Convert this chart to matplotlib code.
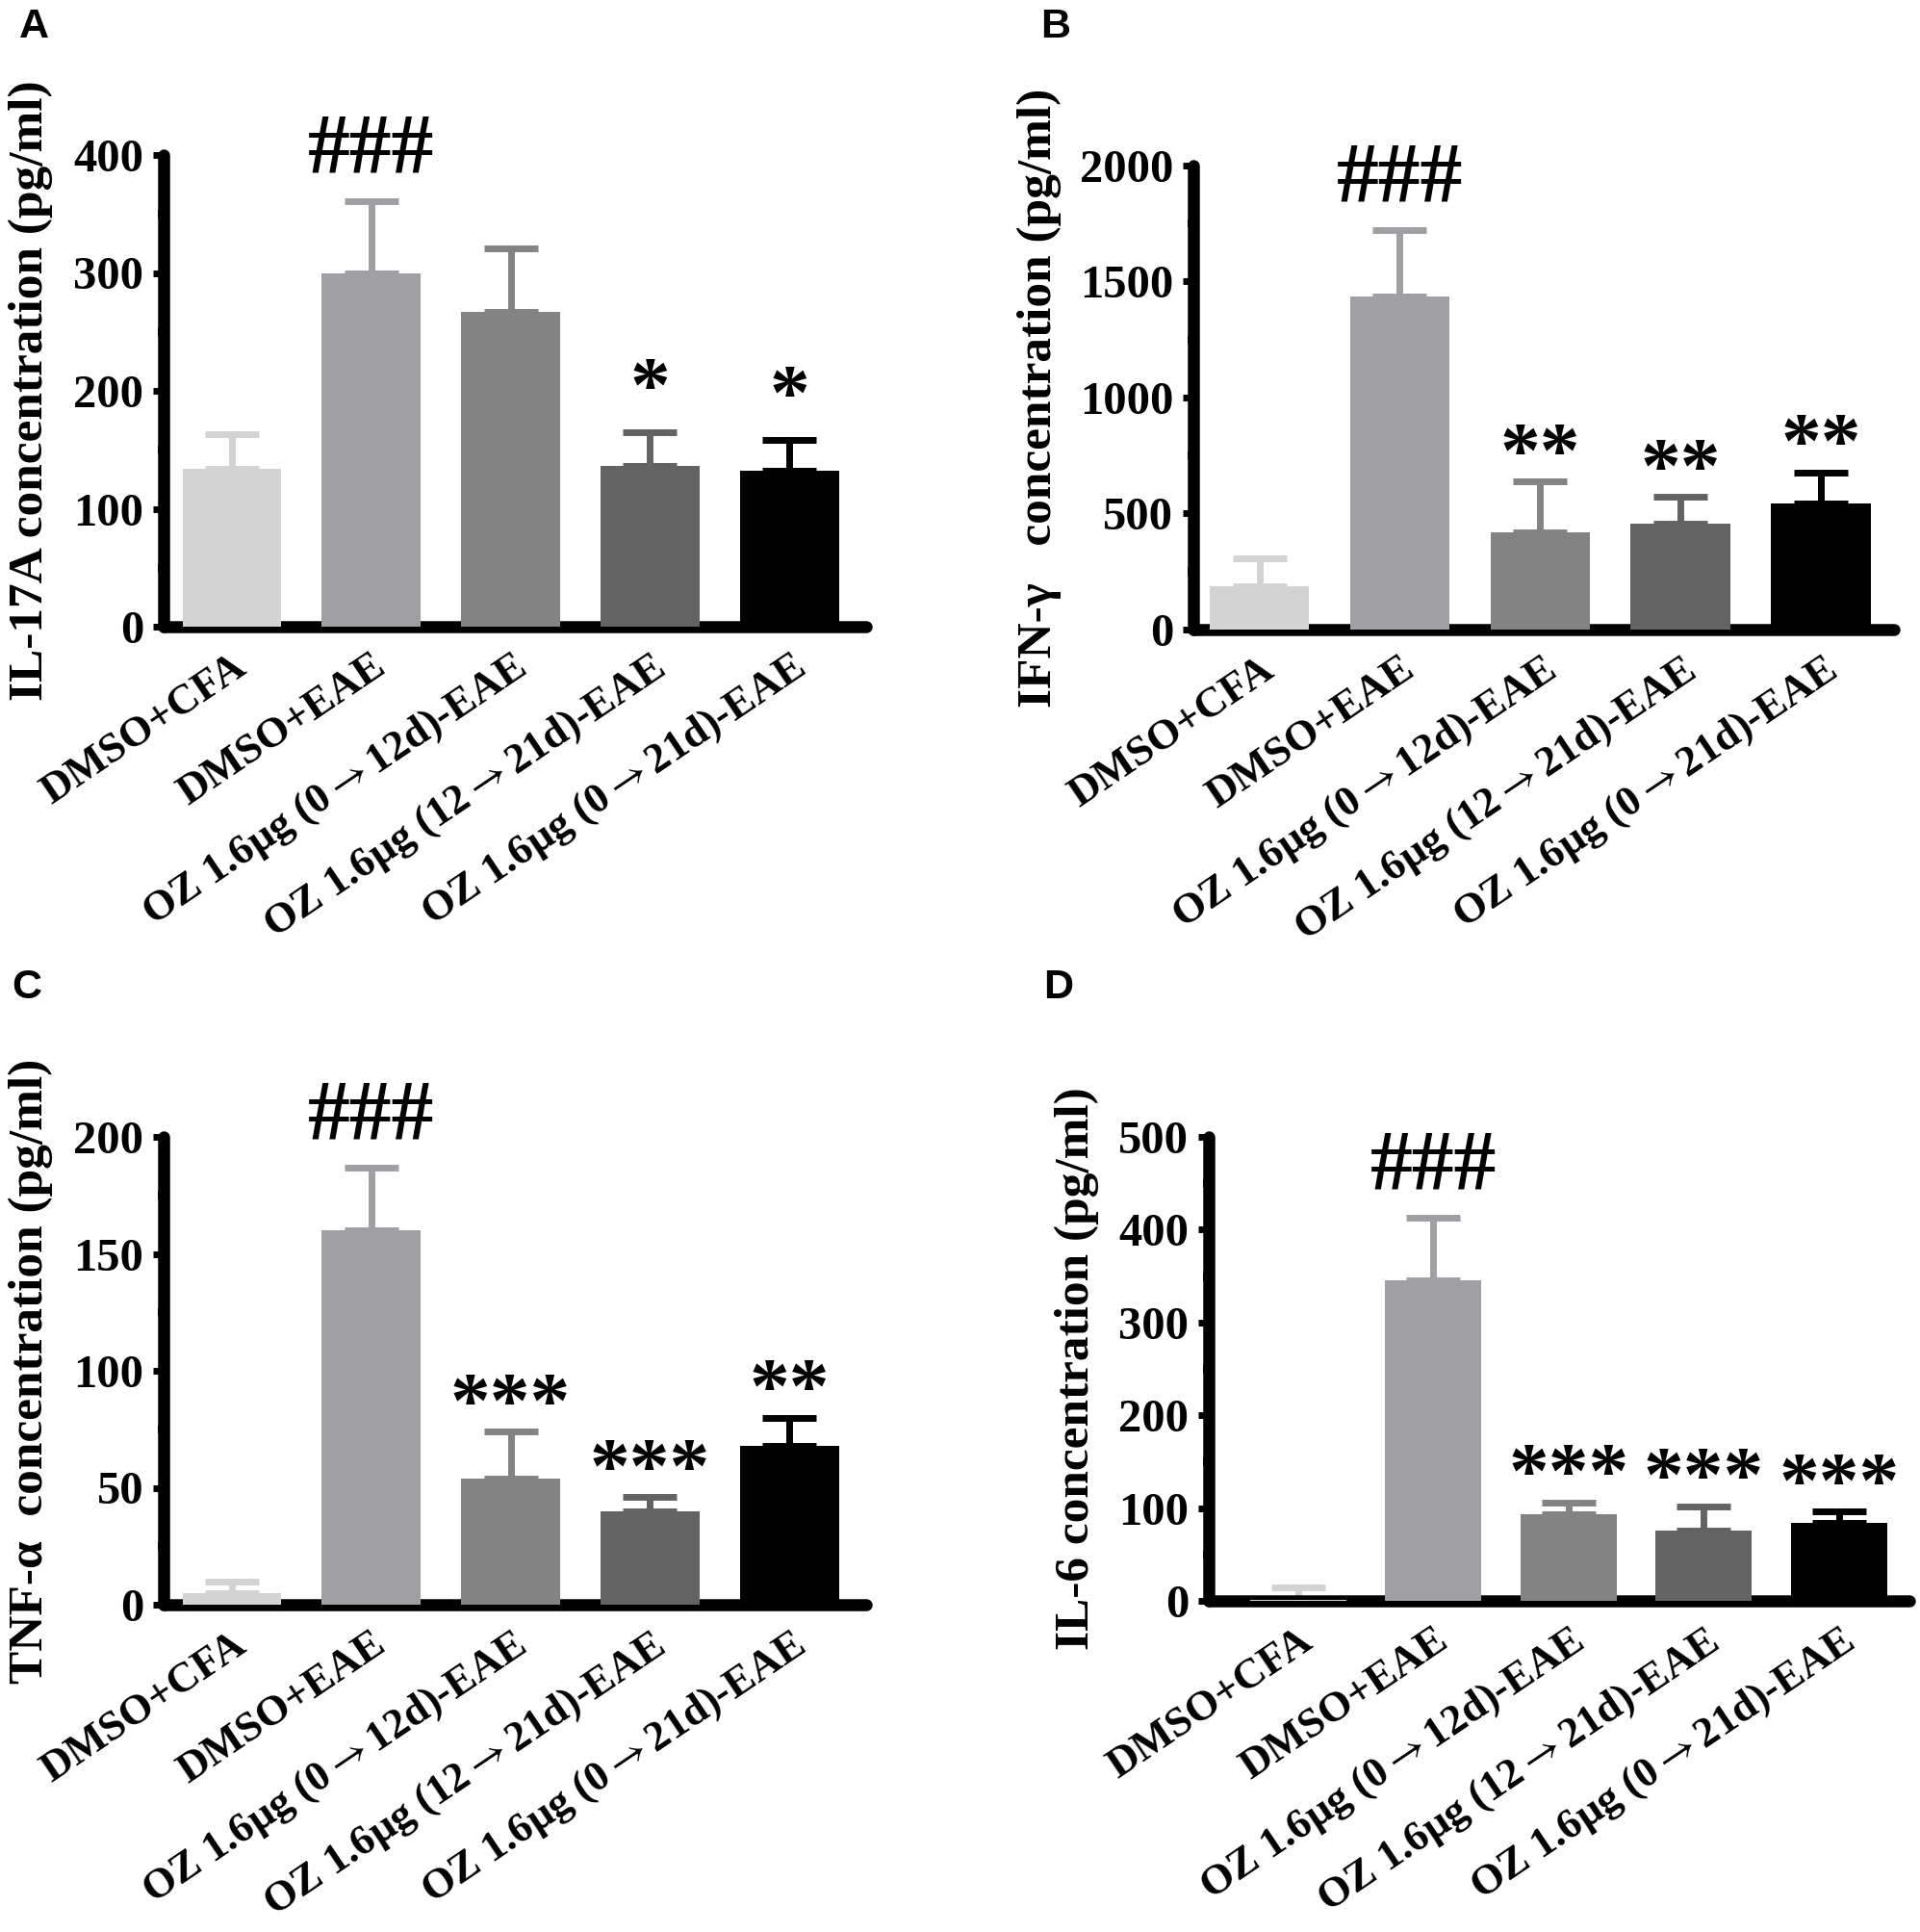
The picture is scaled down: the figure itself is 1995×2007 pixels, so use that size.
import matplotlib
matplotlib.use("Agg")
import matplotlib.pyplot as plt
import numpy as np

plt.rcParams["mathtext.fontset"] = "stix"

# groups shared by all four panels
groups = ["DMSO+CFA", "DMSO+EAE", "OZ 1.6μg (0$\\rightarrow$12d)-EAE",
          "OZ 1.6μg (12$\\rightarrow$21d)-EAE", "OZ 1.6μg (0$\\rightarrow$21d)-EAE"]
bar_colors = ["#d3d3d3", "#a0a0a4", "#838383", "#636363", "#000000"]

# A: IL-17A
il17_mean = [134, 300, 267, 136, 132]
il17_sem = [29, 61, 54, 29, 26]
il17_marks = ["", "###", "", "*", "*"]

# B: IFN-gamma
ifng_mean = [186, 1436, 418, 457, 545]
ifng_sem = [120, 287, 220, 115, 133]
ifng_marks = ["", "###", "**", "**", "**"]

# C: TNF-alpha
tnf_mean = [5, 160, 54, 40, 68]
tnf_sem = [5, 27, 20, 6, 12]
tnf_marks = ["", "###", "***", "***", "**"]

# D: IL-6
il6_mean = [1, 345, 93, 76, 84]
il6_sem = [14, 68, 13, 26, 12]
il6_marks = ["", "###", "***", "***", "***"]

SERIF = ["Liberation Serif", "DejaVu Serif", "DejaVu Sans"]

W, H = 1995, 2007
fig = plt.figure(figsize=(W / 100, H / 100), dpi=100)


def px_axes(left, right, top, bottom):
    return fig.add_axes([left / W, 1 - bottom / H, (right - left) / W, (bottom - top) / H])


def draw_panel(ax, means, sems, marks, ylabel, ymax, step, xlim, label_x, star_dy=4):
    x = np.arange(len(groups))
    ax.bar(x, means, width=0.71, color=bar_colors, zorder=3)
    for i in range(len(x)):
        ax.errorbar(x[i], means[i], yerr=[[0], [sems[i]]], fmt="none",
                    ecolor=bar_colors[i], elinewidth=5, capsize=20,
                    capthick=5, zorder=2)
    for i, m in enumerate(marks):
        if not m:
            continue
        top = means[i] + sems[i]
        if m.startswith("#"):
            ax.annotate(m, xy=(x[i], top), xytext=(0, 22), textcoords="offset points",
                        ha="center", va="baseline", fontsize=63, family=SERIF,
                        fontweight="bold")
        else:
            ax.annotate(m, xy=(x[i], top), xytext=(0, star_dy), textcoords="offset points",
                        ha="center", va="baseline", fontsize=60, family=SERIF,
                        fontweight="bold")

    ax.set_xlim(*xlim)
    ax.set_ylim(0, ymax)
    ax.set_yticks(np.arange(0, ymax + 1, step))
    ax.set_yticks(np.arange(step / 2, ymax, step), minor=True)
    ax.set_xticks(x)
    ax.set_xticklabels(groups, rotation=34, ha="right", va="top",
                       rotation_mode="anchor", fontsize=32, family=SERIF,
                       fontweight="bold")
    for t in ax.get_yticklabels():
        t.set_fontsize(35)
        t.set_family(SERIF)
        t.set_fontweight("bold")

    ax.tick_params(axis="x", length=0, pad=15)
    ax.tick_params(axis="y", which="major", direction="out", length=8, width=5, pad=7)
    ax.tick_params(axis="y", which="minor", direction="out", length=4, width=6)

    for side in ["top", "right"]:
        ax.spines[side].set_visible(False)
    for side in ["left", "bottom"]:
        ax.spines[side].set_linewidth(9)
        ax.spines[side].set_capstyle("round")

    ax.set_ylabel(ylabel, fontsize=37, family=SERIF, fontweight="bold", va="center")
    ax.yaxis.set_label_coords(label_x, 0.5)


ax_a = px_axes(170, 900, 161, 651)
draw_panel(ax_a, il17_mean, il17_sem, il17_marks, "IL-17A concentration (pg/ml)",
           400, 100, (-0.49, 4.55), -0.189, star_dy=16)

ax_b = px_axes(1240, 1968, 172, 654)
draw_panel(ax_b, ifng_mean, ifng_sem, ifng_marks, "IFN-γ   concentration (pg/ml)",
           2000, 500, (-0.47, 4.52), -0.22)

ax_c = px_axes(170, 900, 1181, 1667)
draw_panel(ax_c, tnf_mean, tnf_sem, tnf_marks, "TNF-α  concentration (pg/ml)",
           200, 50, (-0.49, 4.55), -0.189)

ax_d = px_axes(1256, 1984, 1181, 1663)
draw_panel(ax_d, il6_mean, il6_sem, il6_marks, "IL-6 concentration (pg/ml)",
           500, 100, (-0.66, 4.52), -0.188)

# panel letters
for letter, (lx, ly) in zip("ABCD", [(20, 8), (1081, 8), (12, 1006), (1084, 1006)]):
    fig.text(lx / W, 1 - ly / H, letter, fontsize=31, fontweight="bold",
             family="Liberation Sans", ha="left", va="top")

fig.savefig("out.png", dpi=100)
